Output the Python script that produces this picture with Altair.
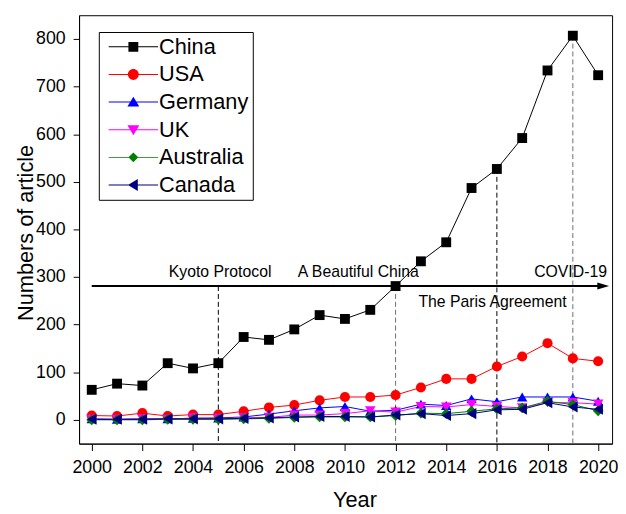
import altair as alt
import pandas as pd

# ---------------- data ----------------
years = list(range(2000, 2021))
china = [63, 76, 72, 119, 108, 119, 174, 168, 190, 220, 212, 231, 281, 333, 373, 487, 527, 592, 734, 807, 724]
usa = [9, 8, 14, 8, 11, 11, 18, 26, 31, 41, 48, 48, 52, 68, 86, 86, 112, 133, 161, 129, 123]
germany = [2, 1, 2, 2, 3, 4, 6, 12, 19, 25, 28, 18, 20, 33, 30, 44, 38, 48, 48, 48, 39]
uk = [1, 1, 2, 1, 4, 3, 4, 5, 10, 10, 13, 19, 16, 28, 27, 32, 28, 25, 36, 36, 33]
australia = [0, 0, 0, 1, 1, 1, 2, 3, 5, 6, 6, 6, 9, 14, 13, 18, 23, 25, 39, 32, 19]
canada = [1, 1, 1, 2, 2, 2, 3, 4, 6, 7, 7, 6, 10, 13, 9, 13, 21, 22, 36, 27, 22]

countries = ["China", "USA", "Germany", "UK", "Australia", "Canada"]
series = [china, usa, germany, uk, australia, canada]

event_years = [2005, 2012, 2016, 2019]
event_tops = [281, 281, 527, 807]

note_texts = ["Kyoto Protocol", "A Beautiful China", "The Paris Agreement", "COVID-19"]
note_x = [2005.07, 2010.53, 2015.83, 2018.91]
note_y = [310, 310, 247, 310]

arrow_from = [2000]
arrow_to = [2020.2]
arrow_level = [281]

# ---------------- styles ----------------
colors = ["#000000", "#FF0000", "#0000FF", "#FF00FF", "#008000", "#000080"]
shapes = ["square", "circle", "triangle-up", "triangle-down", "diamond", "triangle-left"]
marker_sizes = [100, 125, 135, 135, 110, 135]
FONT = "Liberation Sans"

# legend symbols: thin line + marker (filled paths, same winding)
bar = "M-1,-0.1H9V0.1H-1Z"
legend_paths = {
    "China": bar + "M3,-1H5V1H3Z",
    "USA": bar + "M5.1,0A1.1,1.1,0,1,1,2.9,0A1.1,1.1,0,1,1,5.1,0Z",
    "Germany": bar + "M4,-1.1L5.2,0.9L2.8,0.9Z",
    "UK": bar + "M2.8,-0.9L5.2,-0.9L4,1.1Z",
    "Australia": bar + "M4,-1L5,0L4,1L3,0Z",
    "Canada": bar + "M2.9,0L4.9,-1.2L4.9,1.2Z",
}
expr = "'" + legend_paths["Canada"] + "'"
for c in reversed(countries[:-1]):
    expr = f"datum.value == '{c}' ? '{legend_paths[c]}' : ({expr})"

rows = []
for i, (c, vals) in enumerate(zip(countries, series)):
    for y, v in zip(years, vals):
        rows.append({"year": y, "value": v, "country": c, "idx": i})
df = pd.DataFrame(rows)

events = pd.DataFrame({"year": event_years, "top": event_tops})
notes = pd.DataFrame({"text": note_texts, "x": note_x, "y": note_y})
arrow = pd.DataFrame({"x0": arrow_from, "x1": arrow_to, "y": arrow_level})

xscale = alt.Scale(domain=[1999.5, 2020.55], nice=False, zero=False)
yscale = alt.Scale(domain=[-50, 850], nice=False, zero=False)

xaxis = alt.Axis(
    values=years, format="d",
    labelExpr="datum.value % 2 == 0 ? datum.label : ''",
    tickSize={"condition": {"test": "datum.value % 2 != 0", "value": 4}, "value": 7},
    labelPadding=8, title="Year", titleX=279, titleY=64,
    titleBaseline="alphabetic", titleAlign="center",
)
yaxis = alt.Axis(
    values=list(range(0, 801, 50)),
    labelExpr="datum.value % 100 == 0 ? datum.label : ''",
    tickSize={"condition": {"test": "datum.value % 100 != 0", "value": 3.5}, "value": 6},
    labelPadding=8, title="Numbers of article", titleAngle=270,
    titleX=-47, titleY=220, titleBaseline="alphabetic", titleAlign="center",
)

color_scale = alt.Scale(domain=countries, range=colors)

rules = alt.Chart(events).mark_rule(strokeDash=[5, 3], strokeWidth=1).encode(
    x=alt.X("year:Q", scale=xscale, axis=xaxis),
    y=alt.Y("top:Q", scale=yscale, axis=yaxis),
    y2=alt.datum(-50),
    color=alt.condition("datum.year == 2012 || datum.year == 2019",
                        alt.value("#6e6e6e"), alt.value("#000000")),
)

arrow_line = alt.Chart(arrow).mark_rule(strokeWidth=2, color="black").encode(
    x="x0:Q", x2="x1:Q", y="y:Q"
)
arrow_head = alt.Chart(arrow).mark_point(
    shape="M1,0L-1,-0.6L-1,0.6Z", filled=True, opacity=1, color="black", size=144
).encode(x="x1:Q", y="y:Q")

texts = alt.Chart(notes).mark_text(
    font=FONT, fontSize=16, color="black", align="center", baseline="middle"
).encode(x="x:Q", y="y:Q", text="text:N")

lines = alt.Chart(df).mark_line(strokeWidth=1).encode(
    x="year:Q", y="value:Q",
    color=alt.Color("country:N", scale=color_scale, legend=None),
    detail="country:N",
)

points = alt.Chart(df).mark_point(filled=True, opacity=1).encode(
    x="year:Q", y="value:Q",
    color=alt.Color(
        "country:N", scale=color_scale,
        legend=alt.Legend(
            title=None, orient="none", legendX=20, legendY=17,
            symbolType={"expr": expr}, symbolSize=100, symbolStrokeWidth=0,
            labelFont=FONT, labelFontSize=22, labelColor="black",
            labelOffset=35, rowPadding=6, padding=4, labelLimit=0,
            strokeColor="black", fillColor="white", cornerRadius=0,
        ),
    ),
    shape=alt.Shape("country:N", scale=alt.Scale(domain=countries, range=shapes), legend=None),
    size=alt.Size("country:N", scale=alt.Scale(domain=countries, range=marker_sizes), legend=None),
    order=alt.Order("idx:Q"),
)

chart = alt.layer(rules, arrow_line, arrow_head, texts, lines, points).resolve_legend(
    color="independent"
).properties(
    width=540, height=434,
    padding={"left": 72, "top": 4, "right": 6, "bottom": 70},
    autosize=alt.AutoSizeParams(type="none"),
).configure(
    background="white"
).configure_view(
    stroke="black", strokeWidth=1
).configure_axis(
    domainColor="black", domainWidth=1, tickColor="black", tickWidth=1,
    labelColor="black", labelFont=FONT, labelFontSize=18,
    titleColor="black", titleFont=FONT, titleFontSize=22, titleFontWeight="normal",
    grid=False,
)

chart.save("out.html", embed_options={"renderer": "svg", "actions": False})
